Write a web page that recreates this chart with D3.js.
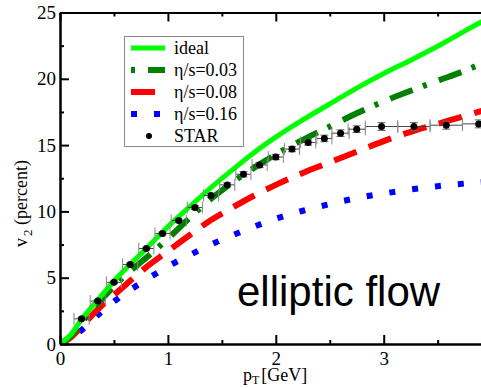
<!DOCTYPE html>
<html><head><meta charset="utf-8">
<script src="https://cdn.jsdelivr.net/npm/d3@7"></script>
<style>body{margin:0;background:#fff}svg{display:block}</style>
</head><body>
<script>
// ---- data ----
const ptGrid   = [0,0.1,0.2,0.3,0.4,0.5,0.6,0.8,1.0,1.2,1.4,1.6,1.8,2.0,2.25,2.5,2.75,3.0,3.25,3.5,3.75,4.0];
const ideal    = [0,0.7,1.85,2.85,3.8,4.75,5.6,7.2,8.85,10.35,11.8,13.15,14.45,15.6,16.9,18.1,19.3,20.4,21.4,22.45,23.6,24.7];
const eta003   = [0,0.6,1.6,2.6,3.5,4.35,5.15,6.5,7.95,9.5,10.95,12.2,13.3,14.3,15.4,16.4,17.4,18.3,19.1,19.85,20.6,21.5];
const eta008   = [0,0.5,1.3,2.2,3.0,3.7,4.4,5.8,7.0,8.2,9.35,10.3,11.2,12.0,12.9,13.7,14.5,15.3,16.0,16.6,17.2,17.8];
const eta016   = [0,0.5,1.05,1.8,2.55,3.2,3.8,4.85,5.85,6.7,7.5,8.2,8.85,9.45,10.05,10.55,11.0,11.35,11.65,11.9,12.1,12.25];
const starPt   = [0.2,0.35,0.5,0.65,0.8,0.95,1.1,1.25,1.4,1.55,1.7,1.85,2.0,2.15,2.3,2.45,2.6,2.75,2.98,3.28,3.58,3.88];
const starV2   = [1.9,3.24,4.65,6.0,7.2,8.34,9.32,10.3,11.2,12.0,12.8,13.5,14.1,14.7,15.2,15.5,15.9,16.2,16.4,16.4,16.5,16.6];
const starXErr = [0.07,0.07,0.07,0.07,0.07,0.07,0.07,0.07,0.07,0.07,0.07,0.07,0.07,0.07,0.07,0.07,0.08,0.08,0.15,0.15,0.15,0.15];
const starYErr = [0.1,0.1,0.1,0.1,0.1,0.1,0.1,0.15,0.15,0.15,0.2,0.2,0.2,0.2,0.2,0.25,0.25,0.25,0.3,0.3,0.3,0.3];
const xMajor = [0,1,2,3,4];
const xLabels = ["0","1","2","3",""];
const xMinor = [0.5,1.5,2.5,3.5];
const yMajor = [0,5,10,15,20,25];
const yMinor = [2.5,7.5,12.5,17.5,22.5];
const legendLabels = ["ideal","η/s=0.03","η/s=0.08","η/s=0.16","STAR"];

const W=481,H=388;
const L=60, T=12.5, B=344;
const x = d3.scaleLinear().domain([0,4]).range([L, L+4*107.9]);
const y = d3.scaleLinear().domain([0,25]).range([B, T]);

const svg = d3.select("body").append("svg").attr("width",W).attr("height",H);
svg.append("defs").append("clipPath").attr("id","clip")
  .append("rect").attr("x",L).attr("y",T).attr("width",x(4)-L).attr("height",B-T);

const serif = "'Liberation Serif','Times New Roman',serif";

// curves
const series = [
  {v:ideal,  color:"#00ff00", dash:null,           w:5},
  {v:eta003, color:"#008000", dash:"24,11,4,13",   w:6},
  {v:eta008, color:"#ff0000", dash:"24,13",        w:6},
  {v:eta016, color:"#0000ff", dash:"6,17",         w:6}
];
const line = d3.line().x(d=>x(d[0])).y(d=>y(d[1])).curve(d3.curveMonotoneX);
const gc = svg.append("g").attr("clip-path","url(#clip)");
series.slice().reverse().forEach(s=>{
  gc.append("path").datum(ptGrid.map((p,i)=>[p,s.v[i]]))
    .attr("d",line).attr("fill","none").attr("stroke",s.color)
    .attr("stroke-width",s.w).attr("stroke-dasharray",s.dash)
    .attr("stroke-linecap","butt");
});

// STAR data with error bars
const star = starPt.map((p,i)=>({p,v:starV2[i],ex:starXErr[i],ey:starYErr[i]}));
const gs = svg.append("g");
star.forEach(d=>{
  const cx=x(d.p), cy=y(d.v), x0=x(d.p-d.ex), x1=x(d.p+d.ex);
  gs.append("line").attr("x1",x0).attr("x2",x1).attr("y1",cy).attr("y2",cy).attr("stroke","#444").attr("stroke-width",1);
  [x0,x1].forEach(xx=>gs.append("line").attr("x1",xx).attr("x2",xx).attr("y1",cy-6).attr("y2",cy+6).attr("stroke","#888").attr("stroke-width",1));
  const y0=y(d.v-d.ey), y1=y(d.v+d.ey);
  gs.append("line").attr("x1",cx).attr("x2",cx).attr("y1",y0).attr("y2",y1).attr("stroke","#444").attr("stroke-width",1);
  [y0,y1].forEach(yy=>gs.append("line").attr("x1",cx-4).attr("x2",cx+4).attr("y1",yy).attr("y2",yy).attr("stroke","#666").attr("stroke-width",1));
  gs.append("circle").attr("cx",cx).attr("cy",cy).attr("r",3.5).attr("fill","#000");
});

// axes
function styleAxis(g){
  g.selectAll(".domain").attr("stroke","#000").attr("stroke-width",2);
  g.selectAll(".tick line").attr("stroke","#000").attr("stroke-width",2);
  g.selectAll("text").attr("font-family",serif).attr("font-size",19).attr("fill","#000");
}
svg.append("g").attr("transform",`translate(0,${B})`)
  .call(d3.axisBottom(x).tickValues(xMajor).tickSize(-9).tickSizeOuter(0).tickPadding(8).tickFormat((d,i)=>xLabels[i]))
  .call(styleAxis);
svg.append("g").attr("transform",`translate(0,${B})`)
  .call(d3.axisBottom(x).tickValues(xMinor).tickSize(-4).tickSizeOuter(0).tickFormat(""))
  .call(styleAxis);
svg.append("g").attr("transform",`translate(0,${T})`)
  .call(d3.axisTop(x).tickValues(xMajor).tickSize(-9).tickSizeOuter(0).tickFormat(""))
  .call(styleAxis);
svg.append("g").attr("transform",`translate(0,${T})`)
  .call(d3.axisTop(x).tickValues(xMinor).tickSize(-4).tickSizeOuter(0).tickFormat(""))
  .call(styleAxis);
svg.append("g").attr("transform",`translate(${L},0)`)
  .call(d3.axisLeft(y).tickValues(yMajor).tickSize(-9).tickSizeOuter(0).tickPadding(4).tickFormat(d3.format("d")))
  .call(styleAxis);
svg.append("g").attr("transform",`translate(${L},0)`)
  .call(d3.axisLeft(y).tickValues(yMinor).tickSize(-4).tickSizeOuter(0).tickFormat(""))
  .call(styleAxis);

// axis titles
const yl = svg.append("text").attr("transform","translate(27,247) rotate(-90)")
  .attr("font-family",serif).attr("font-size",18).attr("fill","#000");
yl.append("tspan").text("v");
yl.append("tspan").attr("font-size",13).attr("dy",5).attr("dx",2).text("2");
yl.append("tspan").attr("dy",-5).text(" (percent)");

const xl = svg.append("text").attr("x",243).attr("y",381)
  .attr("font-family",serif).attr("font-size",18).attr("fill","#000");
xl.append("tspan").text("p");
xl.append("tspan").attr("font-size",12).attr("dy",3).text("T");
xl.append("tspan").attr("dy",-3).attr("dx",2).text("[GeV]");

// legend
const lg = svg.append("g");
lg.append("rect").attr("x",124.5).attr("y",36.5).attr("width",119).attr("height",110)
  .attr("fill","#fff").attr("stroke","#888").attr("stroke-width",1);
const rowY = i=>48+22*i;
series.forEach((s,i)=>{
  lg.append("line").attr("x1",131).attr("x2",165).attr("y1",rowY(i)).attr("y2",rowY(i))
    .attr("stroke",s.color).attr("stroke-width",s.w).attr("stroke-dasharray",s.dash)
    .attr("stroke-dashoffset", i===1 ? 35 : 0);
});
lg.append("circle").attr("cx",149).attr("cy",rowY(4)).attr("r",3).attr("fill","#000");
legendLabels.forEach((t,i)=>{
  lg.append("text").attr("x",174).attr("y",rowY(i)+6).attr("font-family",serif)
    .attr("font-size",18).attr("fill","#000").text(t);
});

// annotation
svg.append("text").attr("x",237).attr("y",306).attr("font-family","'Liberation Sans',Arial,sans-serif")
  .attr("font-size",42).attr("fill","#000").text("elliptic flow");
</script>
</body></html>
